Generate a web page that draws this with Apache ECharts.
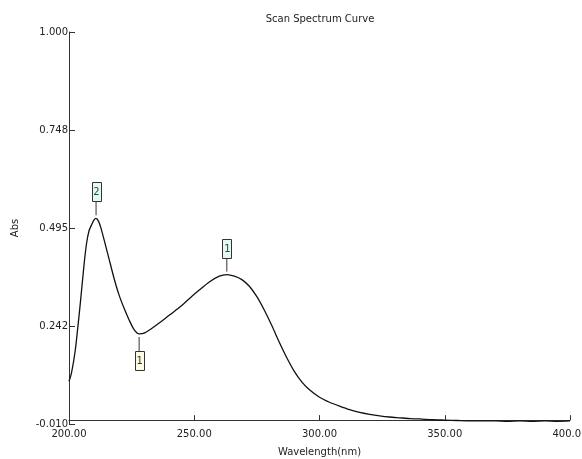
<!DOCTYPE html>
<html>
<head>
<meta charset="utf-8">
<script src="https://cdn.jsdelivr.net/npm/echarts@6/dist/echarts.min.js"></script>
<style>
html,body{margin:0;padding:0;background:#fff;width:100%;height:100%;overflow:hidden;}
#chart{width:582px;height:459px;position:absolute;left:0;top:0;}
</style>
</head>
<body>
<div id="chart"></div>
<script>
// Wavelength (nm)
var wavelengths = [200,201,202.5,204.5,206,207,208,209,210,210.8,211.8,212.8,214,216,218,220,222,224,226,228,230,233,236,240,244,248,252,256,260,263,266,269,272,275,278,281,284,287,290,293,296,300,304,308,312,316,320,324,328,332,336,340,345,350,355,360,365,370,375,380,385,390,395,400];
// Absorbance
var absValues = [0.100,0.122,0.180,0.300,0.400,0.455,0.488,0.503,0.516,0.520,0.512,0.494,0.465,0.415,0.365,0.322,0.288,0.258,0.233,0.222,0.224,0.236,0.250,0.270,0.290,0.313,0.335,0.356,0.371,0.375,0.371,0.362,0.345,0.318,0.283,0.243,0.200,0.160,0.125,0.098,0.078,0.059,0.046,0.036,0.027,0.020,0.015,0.011,0.008,0.006,0.004,0.003,0.001,0.000,-0.001,-0.002,-0.002,-0.002,-0.003,-0.002,-0.003,-0.002,-0.003,-0.002];
// Y tick labels (instrument scale)
var yTickLabels = ['-0.010','0.242','0.495','0.748','1.000'];
// Peak / valley markers
var markerX = [210.8, 263, 228];
var markerY = [0.520, 0.375, 0.222];
var markerText = ['2', '1', '1'];
var markerDir = [-1, -1, 1]; // -1 above (peak), 1 below (valley)

var FONT = '"DejaVu Sans", Verdana, sans-serif';
var chart = echarts.init(document.getElementById('chart'), null, {renderer:'canvas', width:582, height:459});

var lineData = wavelengths.map(function(w,i){return [w, absValues[i]];});
var markerData = markerX.map(function(x,i){return [x, markerY[i], i];});

var option = {
  backgroundColor: '#ffffff',
  animation: false,
  graphic: [{
    type: 'text', x: 320, y: 19,
    style: {text: 'Scan Spectrum Curve', font: '10px ' + FONT, fill: '#222', align: 'center', verticalAlign: 'middle'}
  }],
  grid: {left: 69, right: 12, top: 32, bottom: 35, containLabel: false, outerBoundsMode: 'none'},
  xAxis: {
    type: 'value', min: 200, max: 400, interval: 50,
    name: 'Wavelength(nm)', nameLocation: 'middle', nameGap: 23,
    nameTextStyle: {fontFamily: FONT, fontSize: 10, color: '#222'},
    axisLine: {show: true, lineStyle: {color: '#333', width: 1}},
    axisTick: {show: true, inside: true, length: 5, lineStyle: {color: '#333'}},
    axisLabel: {fontFamily: FONT, fontSize: 10, color: '#222', margin: 5,
      formatter: function(v){return v.toFixed(2);}, showMaxLabel: true, showMinLabel: true, hideOverlap: false},
    splitLine: {show: false}
  },
  yAxis: [{
    type: 'value', min: -0.01, max: 1.0,
    name: 'Abs', nameLocation: 'middle', nameGap: 49, nameRotate: 90,
    nameTextStyle: {fontFamily: FONT, fontSize: 10, color: '#222'},
    axisLine: {show: true, lineStyle: {color: '#333', width: 1}},
    axisTick: {show: false},
    axisLabel: {show: false},
    splitLine: {show: false}
  }, {
    type: 'value', min: 0, max: 4, interval: 1, position: 'left',
    axisLine: {show: false},
    axisTick: {show: true, inside: true, length: 6, lineStyle: {color: '#333'}},
    axisLabel: {fontFamily: FONT, fontSize: 10, color: '#222', margin: 1,
      formatter: function(v, idx){return yTickLabels[Math.round(v)];}},
    splitLine: {show: false}
  }],
  series: [{
    type: 'line', yAxisIndex: 0, data: lineData, smooth: 0.25, showSymbol: false,
    lineStyle: {color: '#111', width: 1.3}, z: 2
  }, {
    type: 'custom', yAxisIndex: 0, data: markerData, z: 5,
    renderItem: function(params, api){
      var i = api.value(2);
      var p = api.coord([api.value(0), api.value(1)]);
      var d = markerDir[i];
      var gap = 3, stem = 14, bw = 9, bh = 19;
      var y0 = p[1] + d*gap;
      var y1 = y0 + d*stem;
      var boxTop = d < 0 ? y1 - bh : y1;
      var peak = d < 0;
      return {
        type: 'group',
        children: [{
          type: 'line', shape: {x1: p[0], y1: y0, x2: p[0], y2: y1},
          style: {stroke: '#333', lineWidth: 1}
        }, {
          type: 'rect', shape: {x: Math.round(p[0]-bw/2)+0.5, y: Math.round(boxTop)+0.5, width: bw, height: bh},
          style: {fill: peak ? '#e6f7f1' : '#fbfbe6', stroke: '#333', lineWidth: 1}
        }, {
          type: 'text', x: p[0]+0.5, y: boxTop + bh/2 + 1,
          style: {text: markerText[i], font: '10px ' + FONT, fill: peak ? '#1d5246' : '#333', align: 'center', verticalAlign: 'middle'}
        }]
      };
    }
  }]
};
chart.setOption(option);
</script>
</body>
</html>
